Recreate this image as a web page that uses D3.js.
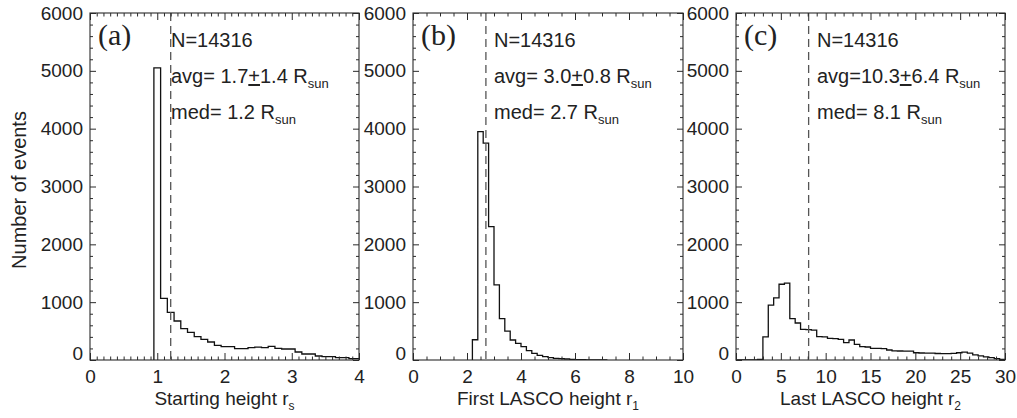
<!DOCTYPE html>
<html><head><meta charset="utf-8">
<script src="https://cdn.jsdelivr.net/npm/d3@7"></script>
<style>body{margin:0;background:#fff}svg{display:block}</style>
</head><body>
<svg id="c" width="1017" height="418"></svg>
<script>
// ---------- data ----------
const panelLabels = ["(a)", "(b)", "(c)"];
const xTitles = ["Starting height  r", "First LASCO height r", "Last LASCO height  r"];
const xTitleSubs = ["s", "1", "2"];
const nEvents = 14316;
const avgVals = ["1.7", "3.0", "10.3"];
const sdVals = ["1.4", "0.8", "6.4"];
const avgSep = [" ", " ", ""];
const medians = [1.2, 2.7, 8.1];
const yTicks = [0, 1000, 2000, 3000, 4000, 5000, 6000];
const xTicksA = [0, 1, 2, 3, 4];
const xTicksB = [0, 2, 4, 6, 8, 10];
const xTicksC = [0, 5, 10, 15, 20, 25, 30];

// histogram A: starting height, bins 0.1 wide from 0.95
const binStartA = 0.95, binWidthA = 0.1;
const countsA = [5050, 1067, 825, 674, 541, 479, 403, 358, 311, 254, 230, 230, 196, 196, 213, 222,
  213, 236, 202, 190, 190, 138, 104, 104, 69, 57, 57, 40, 40, 23, 23];
// histogram B: first LASCO height, bins 0.2 wide from 2.2
const binStartB = 2.2, binWidthB = 0.2;
const countsB = [350, 3950, 3750, 2305, 1300, 715, 500, 346, 288, 230, 161, 115, 81, 58, 40, 29,
  23, 17, 12, 6, 4, 3, 2, 1, 0];
// histogram C: last LASCO height, bins 0.6 wide from 0
const binStartC = 0, binWidthC = 0.6;
const countsC = [0, 0, 0, 0, 10, 400, 950, 1075, 1310, 1330, 715, 640, 530, 525, 515, 405, 400, 375,
  370, 357, 300, 346, 271, 230, 225, 202, 200, 195, 173, 158, 156, 155, 152, 125, 121, 120, 118,
  112, 110, 110, 115, 125, 135, 120, 88, 70, 55, 40, 25, 12];

// ---------- layout ----------
const svg = d3.select("#c");
const plotTop = 13, plotBottom = 360;
const panels = [
  {x0: 90, x1: 359, dom: [0, 4], ticks: xTicksA, minor: 0.1, start: binStartA, w: binWidthA, counts: countsA},
  {x0: 413, x1: 683, dom: [0, 10], ticks: xTicksB, minor: 0.5, start: binStartB, w: binWidthB, counts: countsB},
  {x0: 736, x1: 1005, dom: [0, 30], ticks: xTicksC, minor: 1, start: binStartC, w: binWidthC, counts: countsC}
];
const ink = "#2a2a2a";
const font = "'Liberation Sans', Arial, Helvetica, sans-serif";

const y = d3.scaleLinear().domain([0, 6000]).range([plotBottom, plotTop]);
const yMinor = d3.range(0, 6001, 200).filter(v => v % 1000 !== 0);

panels.forEach((p, i) => {
  const x = d3.scaleLinear().domain(p.dom).range([p.x0, p.x1]);
  const g = svg.append("g");
  const step = p.minor;
  const n = Math.round((p.dom[1] - p.dom[0]) / step);
  const xMinor = d3.range(0, n + 1).map(k => p.dom[0] + k * step).filter(v => !p.ticks.some(t => Math.abs(t - v) < 1e-9));

  const clipId = "clip" + i;
  svg.append("clipPath").attr("id", clipId).append("rect")
    .attr("x", p.x0).attr("y", plotTop).attr("width", p.x1 - p.x0).attr("height", plotBottom - plotTop);

  // histogram outline
  const pts = [[p.start, 0]];
  p.counts.forEach((c, k) => {
    const lo = p.start + k * p.w, hi = lo + p.w;
    pts.push([lo, c], [hi, c]);
  });
  pts.push([p.start + p.counts.length * p.w, 0]);
  g.append("path")
    .attr("clip-path", `url(#${clipId})`)
    .attr("d", d3.line().x(d => x(d[0])).y(d => y(d[1]))(pts))
    .attr("fill", "none").attr("stroke", "#111").attr("stroke-width", 1.3);

  // median dashed line
  g.append("line")
    .attr("x1", x(medians[i])).attr("x2", x(medians[i]))
    .attr("y1", plotTop).attr("y2", plotBottom)
    .attr("stroke", "#555").attr("stroke-width", 1.3).attr("stroke-dasharray", "8,5");

  const styleAxis = sel => {
    sel.select(".domain").remove();
    sel.selectAll("line").attr("stroke", ink).attr("stroke-width", 1);
    sel.selectAll("text").attr("fill", "#222").attr("font-family", font).attr("font-size", 19);
  };
  g.append("g").attr("transform", `translate(0,${plotBottom})`)
    .call(d3.axisBottom(x).tickValues(p.ticks).tickSizeInner(-7).tickSizeOuter(0).tickPadding(10).tickFormat(d3.format("d")))
    .call(styleAxis);
  g.append("g").attr("transform", `translate(0,${plotBottom})`)
    .call(d3.axisBottom(x).tickValues(xMinor).tickSizeInner(-3.5).tickSizeOuter(0).tickFormat(""))
    .call(styleAxis);
  g.append("g").attr("transform", `translate(0,${plotTop})`)
    .call(d3.axisTop(x).tickValues(p.ticks).tickSizeInner(-7).tickSizeOuter(0).tickFormat(""))
    .call(styleAxis);
  g.append("g").attr("transform", `translate(0,${plotTop})`)
    .call(d3.axisTop(x).tickValues(xMinor).tickSizeInner(-3.5).tickSizeOuter(0).tickFormat(""))
    .call(styleAxis);

  const yl = g.append("g").attr("transform", `translate(${p.x0},0)`)
    .call(d3.axisLeft(y).tickValues(yTicks).tickSizeInner(-6).tickSizeOuter(0).tickPadding(7).tickFormat(d3.format("d")))
    .call(styleAxis);
  yl.selectAll(".tick text").filter(d => d === 0).attr("y", -7);
  g.append("g").attr("transform", `translate(${p.x0},0)`)
    .call(d3.axisLeft(y).tickValues(yMinor).tickSizeInner(-3).tickSizeOuter(0).tickFormat(""))
    .call(styleAxis);
  g.append("g").attr("transform", `translate(${p.x1},0)`)
    .call(d3.axisRight(y).tickValues(yTicks).tickSizeInner(-6).tickSizeOuter(0).tickFormat(""))
    .call(styleAxis);
  g.append("g").attr("transform", `translate(${p.x1},0)`)
    .call(d3.axisRight(y).tickValues(yMinor).tickSizeInner(-3).tickSizeOuter(0).tickFormat(""))
    .call(styleAxis);

  g.append("rect").attr("x", p.x0).attr("y", plotTop).attr("width", p.x1 - p.x0).attr("height", plotBottom - plotTop)
    .attr("fill", "none").attr("stroke", ink).attr("stroke-width", 1.1);

  g.append("text").attr("x", p.x0 + 8).attr("y", 45)
    .attr("font-family", "'Liberation Serif', 'Times New Roman', serif").attr("font-size", 30)
    .attr("fill", "#222").text(panelLabels[i]);

  const tx = p.x0 + 81;
  const ann = g.append("g").attr("font-family", font).attr("font-size", 20).attr("fill", "#222");
  ann.append("text").attr("x", tx).attr("y", 47).text("N=" + nEvents);
  const t2 = ann.append("text").attr("x", tx).attr("y", 83);
  t2.append("tspan").text("avg=" + avgSep[i] + avgVals[i]);
  t2.append("tspan").attr("text-decoration", "underline").text("+");
  t2.append("tspan").text(sdVals[i] + " R");
  t2.append("tspan").attr("font-size", 13).attr("dy", 5).text("sun");
  const t3 = ann.append("text").attr("x", tx).attr("y", 119);
  t3.append("tspan").text("med= " + medians[i].toFixed(1) + " R");
  t3.append("tspan").attr("font-size", 13).attr("dy", 5).text("sun");

  const xt = svg.append("text").attr("x", (p.x0 + p.x1) / 2).attr("y", 405)
    .attr("text-anchor", "middle").attr("font-family", font).attr("font-size", 19).attr("fill", "#222");
  xt.append("tspan").text(xTitles[i]);
  xt.append("tspan").attr("font-size", 12).attr("dy", 5).text(xTitleSubs[i]);
});

svg.append("text").attr("transform", "translate(26,190) rotate(-90)")
  .attr("text-anchor", "middle").attr("font-family", font).attr("font-size", 20).attr("fill", "#222")
  .text("Number of events");
</script>
</body></html>
